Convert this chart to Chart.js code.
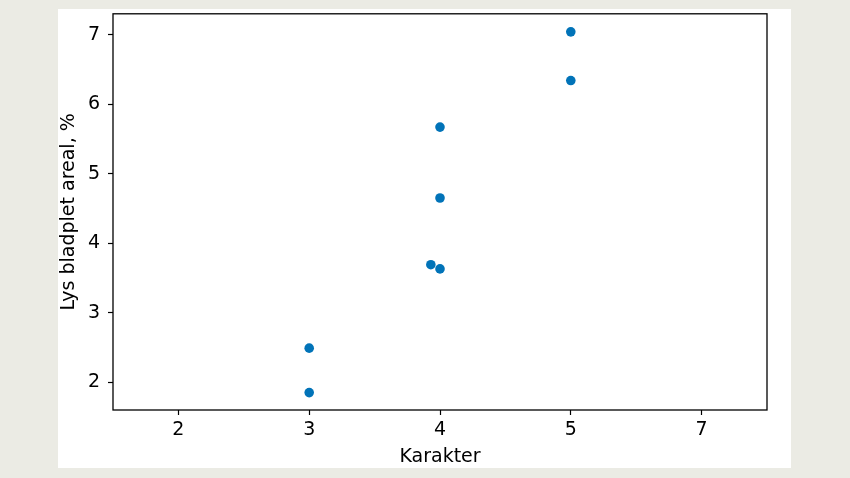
<!DOCTYPE html>
<html>
<head>
<meta charset="utf-8">
<script src="https://cdn.jsdelivr.net/npm/chart.js@4/dist/chart.umd.min.js"></script>
<style>
  html, body { margin: 0; padding: 0; background: #ebebe4; }
  #wrap { position: absolute; left: 58px; top: 9px; width: 733px; height: 459px; background: #fff; }
</style>
</head>
<body>
<div id="wrap"><canvas id="scatter" width="733" height="459"></canvas></div>
<script>
const xLabels = ["2", "3", "4", "5", "7"];
const yTicks = [2, 3, 4, 5, 6, 7];

// karakter per sample, small horizontal jitter (in category units), and leaf spot area
const karakter = ["3", "3", "4", "4", "4", "4", "5", "5"];
const jitter = [0, 0, 0, 0, -0.07, 0, 0, 0];
const areal = [2.49, 1.85, 5.67, 4.65, 3.69, 3.63, 7.04, 6.34];

const points = karakter.map((k, i) => ({
  x: xLabels.indexOf(k) + jitter[i],
  y: areal[i],
}));

const frame = {
  id: "frame",
  afterDraw(chart) {
    const { ctx, chartArea: a } = chart;
    ctx.save();
    ctx.strokeStyle = "#000";
    ctx.lineWidth = 1.3;
    ctx.strokeRect(a.left, a.top, a.right - a.left, a.bottom - a.top);
    ctx.restore();
  },
};

const font = { family: "DejaVu Sans", size: 19 };

new Chart(document.getElementById("scatter").getContext("2d"), {
  type: "scatter",
  data: {
    datasets: [
      {
        data: points,
        backgroundColor: "#0173b8",
        borderWidth: 0,
        pointRadius: 4.8,
        pointHoverRadius: 4.8,
      },
    ],
  },
  options: {
    responsive: false,
    animation: false,
    layout: { padding: { left: 0, top: 4, right: 24, bottom: 0 } },
    plugins: { legend: { display: false }, tooltip: { enabled: false } },
    scales: {
      x: {
        type: "linear",
        min: -0.5,
        max: 4.5,
        afterBuildTicks: (s) => { s.ticks = xLabels.map((_, i) => ({ value: i })); },
        afterFit: (s) => { s.height = 58; s.paddingLeft = 0; s.paddingRight = 0; },
        grid: { drawOnChartArea: false, tickLength: 5, tickColor: "#000", tickWidth: 1.2 },
        border: { display: false },
        ticks: { color: "#000", font, padding: 4, callback: (v) => xLabels[v] },
        title: { display: true, text: "Karakter", color: "#000", font, padding: { top: 0, bottom: 0 } },
      },
      y: {
        min: 1.6,
        max: 7.3,
        afterBuildTicks: (s) => { s.ticks = yTicks.map((v) => ({ value: v })); },
        afterFit: (s) => { s.width = 55; s.paddingTop = 0; s.paddingBottom = 0; },
        grid: { drawOnChartArea: false, tickLength: 5, tickColor: "#000", tickWidth: 1.2 },
        border: { display: false },
        ticks: { color: "#000", font, padding: 8 },
        title: { display: true, text: "Lys bladplet areal, %", color: "#000", font, padding: { top: 0, bottom: 0 } },
      },
    },
  },
  plugins: [frame],
});
</script>
</body>
</html>
